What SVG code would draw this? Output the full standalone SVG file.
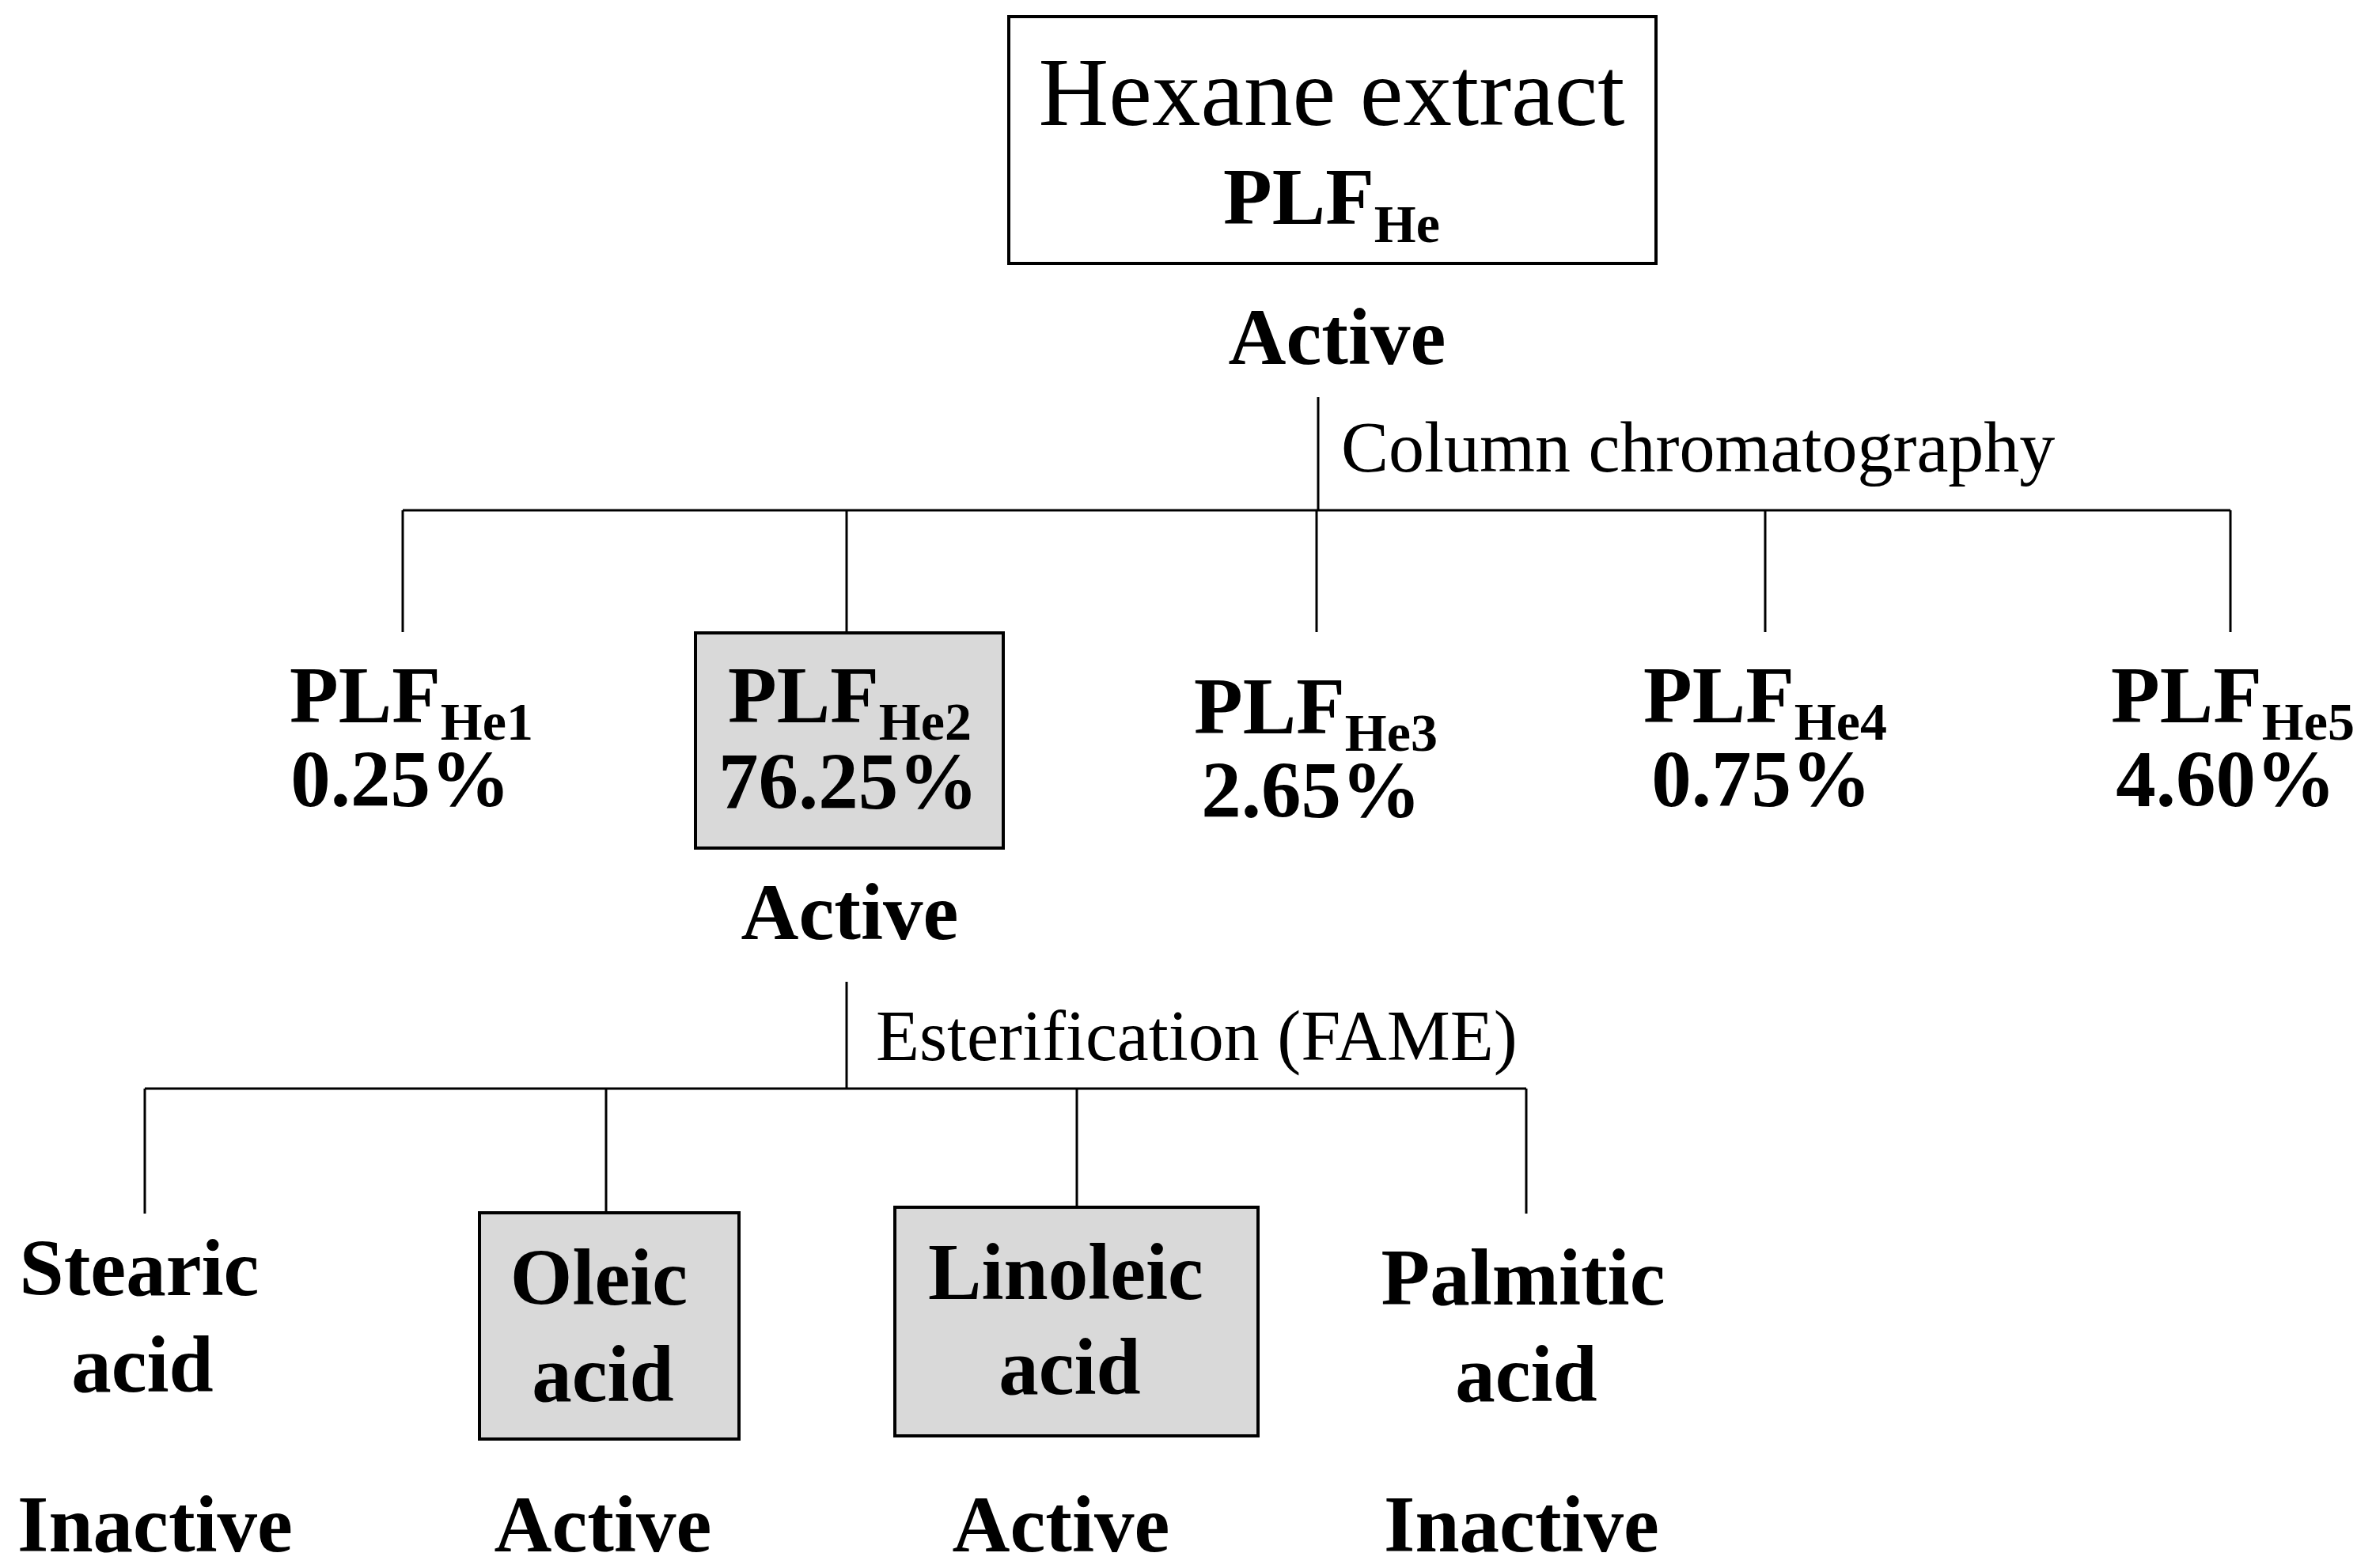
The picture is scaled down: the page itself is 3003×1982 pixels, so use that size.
<svg xmlns="http://www.w3.org/2000/svg" width="3003" height="1982" viewBox="0 0 3003 1982">
<style>
text{font-family:"Liberation Serif","Times New Roman",serif;fill:#000;text-anchor:middle}
.b{font-weight:bold;font-size:101px}
.sub{font-weight:bold;font-size:68px}
.r{font-size:90px;text-anchor:start}
.ln{stroke:#000;stroke-width:3;fill:none}
.box{fill:#fff;stroke:#000;stroke-width:4}
.grey{fill:#d9d9d9;stroke:#000;stroke-width:4}
</style>
<rect width="3003" height="1982" fill="#fff"/>
<g id="connectors" class="ln">
<path d="M1666 502V645M509 645H2819M509 645V799M1070 645V800M1664 645V799M2231 645V799M2819 645V799"/>
<path d="M1070 1241V1376M183 1376H1929M183 1376V1534M766 1376V1533M1361 1376V1526M1929 1376V1534"/>
</g>
<g id="hexane">
<rect class="box" x="1275" y="21" width="818" height="312"/>
<text x="1683" y="158" style="font-size:123px">Hexane extract</text>
<text x="1683" y="283"><tspan class="b">PLF</tspan><tspan class="sub" dy="23">He</tspan></text>
<text class="b" x="1690" y="460">Active</text>
</g>
<text class="r" x="1695" y="596">Column chromatography</text>
<g id="he1"><text x="520" y="913"><tspan class="b">PLF</tspan><tspan class="sub" dy="22">He1</tspan></text><text class="b" x="506" y="1019">0.25%</text></g>
<g id="he2"><rect class="grey" x="879" y="800" width="389" height="272"/>
<text x="1074" y="913"><tspan class="b">PLF</tspan><tspan class="sub" dy="22">He2</tspan></text><text class="b" x="1072" y="1022">76.25%</text>
<text class="b" x="1074" y="1187">Active</text></g>
<g id="he3"><text x="1663" y="927"><tspan class="b">PLF</tspan><tspan class="sub" dy="22">He3</tspan></text><text class="b" x="1657" y="1033">2.65%</text></g>
<g id="he4"><text x="2231" y="913"><tspan class="b">PLF</tspan><tspan class="sub" dy="22">He4</tspan></text><text class="b" x="2226" y="1019">0.75%</text></g>
<g id="he5"><text x="2822" y="913"><tspan class="b">PLF</tspan><tspan class="sub" dy="22">He5</tspan></text><text class="b" x="2813" y="1019">4.60%</text></g>
<text class="r" x="1107" y="1340">Esterification (FAME)</text>
<g id="stearic"><text class="b" x="176" y="1637">Stearic</text><text class="b" x="180" y="1759">acid</text><text class="b" x="196" y="1961">Inactive</text></g>
<g id="oleic"><rect class="grey" x="606" y="1533" width="328" height="286"/><text class="b" x="757" y="1649">Oleic</text><text class="b" x="762" y="1771">acid</text><text class="b" x="762" y="1961">Active</text></g>
<g id="linoleic"><rect class="grey" x="1131" y="1526" width="459" height="289"/><text class="b" x="1347" y="1642">Linoleic</text><text class="b" x="1352" y="1762">acid</text><text class="b" x="1341" y="1961">Active</text></g>
<g id="palmitic"><text class="b" x="1925" y="1649">Palmitic</text><text class="b" x="1929" y="1771">acid</text><text class="b" x="1923" y="1961">Inactive</text></g>
</svg>
